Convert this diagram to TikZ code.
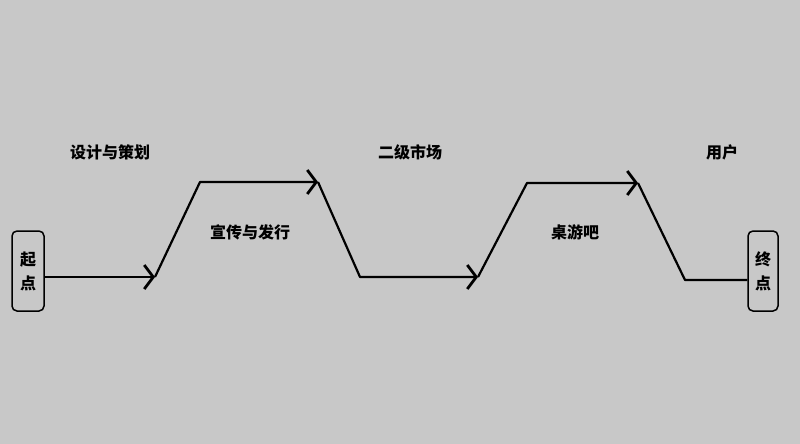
\documentclass[tikz,border=0pt]{standalone}
\usepackage{fontspec}
\newfontfamily\cjk{Noto Sans CJK SC}
\usetikzlibrary{arrows.meta}
\begin{document}
\begin{tikzpicture}[x=1pt,y=-1pt,
  box/.style={draw=black,line width=1.5pt,rounded corners=5pt,fill=none,minimum width=32pt,minimum height=80pt,inner sep=0pt,font=\cjk\bfseries\fontsize{16}{24}\selectfont,align=center},
  lab/.style={font=\cjk\bfseries\fontsize{16}{20}\selectfont},
  conn/.style={line width=2.2pt,black,line join=round,-{Straight Barb[length=9pt,width=24pt,line width=2.8pt]}},
  plain/.style={line width=2.2pt,black,line join=round}]
\fill[gray!42!white,fill={rgb,255:red,200;green,200;blue,200}] (0,0) rectangle (800,444);
\useasboundingbox (0,0) rectangle (800,444);
\node[box] (start) at (28,271) {起\\点};
\node[box,minimum width=30pt] (end) at (763,271) {终\\点};
\coordinate (a1) at (155,277);
\coordinate (b1) at (200,182);
\coordinate (c1) at (318,182);
\coordinate (d1) at (360,277);
\coordinate (e1) at (478,277);
\coordinate (f1) at (527,183);
\coordinate (g1) at (638,183);
\coordinate (h1) at (685,280);
\draw[conn] (start.east |- a1) -- (a1);
\draw[conn] (a1) -- (b1) -- (c1);
\draw[conn] (c1) -- (d1) -- (e1);
\draw[conn] (e1) -- (f1) -- (g1);
\draw[plain] (g1) -- (h1) -- (end.west |- h1);
\node[lab] at (110,152) {设计与策划};
\node[lab] at (250,232) {宣传与发行};
\node[lab] at (410,152) {二级市场};
\node[lab] at (575,232) {桌游吧};
\node[lab] at (722,152) {用户};
\end{tikzpicture}
\end{document}
